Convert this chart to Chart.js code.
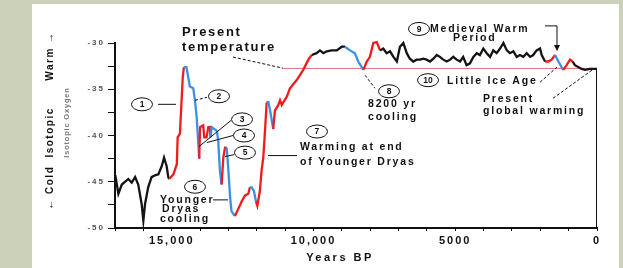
<!DOCTYPE html>
<html>
<head>
<meta charset="utf-8">
<script src="https://cdn.jsdelivr.net/npm/chart.js@4.4.0/dist/chart.umd.min.js"></script>
<style>
  html, body { margin:0; padding:0; background:#ccd1b9; overflow:hidden; }
  #panel { position:absolute; left:32px; top:4px; width:587px; height:264px; background:#fff; }
  #c { position:absolute; left:0; top:0; }
</style>
</head>
<body>
<div id="panel"></div>
<canvas id="c" width="623" height="268"></canvas>
<script>
// GISP2-style temperature record, years BP vs isotope value
const YEARS = [
  16990,16880,16760,16530,16410,16290,16180,16060,16000,15940,15830,15710,15590,15470,15350,15270,15180,15120,
  15090,14940,14820,14790,14710,14670,14610,
  14570,14480,14360,14240,14180,14120,14060,
  14030,14000,13890,13850,13770,13710,13650,
  13630,13590,13410,13360,13300,
  13240,13180,13120,
  13060,13000,12940,12890,
  12770,12690,12530,12420,12300,
  12240,12180,12100,
  12030,11980,11890,11830,11770,11710,
  11650,11590,11530,
  11420,11360,11240,11180,11120,10940,10830,10590,10360,10180,
  10060,9890,9770,9650,9530,9360,9180,9000,
  8890,8710,8540,8420,
  8240,8120,8010,7890,7770,
  7650,7540,7420,7300,7180,7060,6950,6830,6710,6600,6480,6360,6240,6130,6010,5890,5770,5650,5540,5420,
  5300,5180,5070,4950,4830,4720,4600,4480,4360,4240,4130,4010,3890,3770,3660,3540,3420,3300,3180,3070,
  2950,2830,2720,2600,2480,2360,2250,2130,2010,1950,
  1830,1720,1600,
  1480,1360,1250,
  1190,1070,950,
  860,780,660,540,420,250,130,0
];
const TEMPS = [
  -44.3,-46.3,-45.3,-44.7,-45.1,-44.5,-45.3,-47.4,-49.2,-47.4,-45.6,-44.5,-44.3,-44.2,-43.3,-42.4,-43.3,-44.5,
  -44.7,-44.2,-43.1,-40.2,-39.8,-37.3,-33.7,
  -32.6,-32.6,-34.7,-34.9,-36.2,-38.0,-40.9,
  -42.5,-39.1,-38.9,-40.2,-40.2,-39.1,-39.1,
  -40.2,-39.1,-39.5,-40.5,-43.8,
  -45.3,-42.4,-41.3,
  -41.3,-43.8,-46.7,-48.2,
  -48.7,-48.2,-47.1,-46.5,-46.3,
  -45.6,-45.6,-46.0,
  -47.1,-47.6,-46.0,-43.8,-42.4,-39.5,
  -36.4,-36.4,-37.3,
  -39.3,-37.3,-36.7,-36.2,-36.7,-35.8,-34.9,-34.0,-32.9,-31.8,
  -31.3,-31.1,-30.8,-31.1,-30.9,-30.8,-30.8,-30.4,
  -30.4,-30.8,-31.1,-32.0,
  -32.9,-32.0,-31.5,-30.0,-29.9,
  -30.8,-30.6,-31.1,-30.9,-31.5,-32.0,-30.4,-30.0,-31.1,-31.7,-32.0,-31.8,-31.8,-31.7,-31.8,-32.0,-31.7,-31.3,-31.5,-31.8,
  -32.0,-31.8,-31.5,-31.8,-32.0,-31.5,-32.4,-32.2,-31.5,-31.1,-31.3,-30.6,-31.1,-31.5,-30.8,-31.1,-30.6,-30.0,-30.8,-31.1,
  -30.9,-31.5,-31.3,-31.5,-31.1,-31.5,-31.3,-30.8,-30.6,-31.3,
  -32.0,-32.0,-31.8,
  -31.3,-32.0,-32.6,
  -32.9,-32.4,-31.8,
  -32.0,-32.4,-32.6,-32.8,-32.9,-32.8,-32.8,-32.8
];
// colour of the curve changes at these years (k = black, r = warming, b = cooling)
const BREAK_YEARS  = [15090,14570,14030,13630,13240,13060,12770,12240,12030,11650,11420,10060,8890,8240,7650,1830,1480,1190,860];
const BREAK_COLORS = ['r','b','r','b','r','b','r','b','r','b','r','k','b','r','k','r','b','r','k'];

const PRESENT_TEMP = -32.75;
const PRESENT_FROM = 11075;

const X_TICK_VALUES = [15000, 10000, 5000, 0];
const X_TICK_TEXT   = ['15,000', '10,000', '5000', '0'];
const Y_TICK_VALUES = [-30, -35, -40, -45, -50];
const Y_TICK_TEXT   = ['-30', '-35', '-40', '-45', '-50'];

// annotations, in data units (years BP, isotope value)
const CIRCLES = [
  ['1',16048,-36.63],['2',13333,-35.76],['3',12520,-38.26],['4',12450,-40.0],['5',12415,-41.85],
  ['6',14179,-45.54],['7',9876,-39.57],['8',7336,-35.22],['9',6278,-28.48],['10',5960,-34.02]
];
const NOTE_TEXT = [
  ['Present',14637,-28.91,1],['temperature',14637,-30.43,1],
  ['Younger',15414,-46.96,0],['Dryas',15342,-47.93,0],['cooling',15414,-49.02,0],
  ['Warming at end',10475,-41.30,0],['of Younger Dryas',10475,-42.83,0],
  ['8200 yr',8077,-36.63,0],['cooling',8077,-38.04,0],
  ['Medieval Warm',5890,-28.48,0],['Period',5079,-29.46,0],
  ['Little Ice Age',5290,-34.13,0],
  ['Present',4021,-36.09,0],['global warming',4021,-37.39,0]
];
const LEADERS = [
  [[[15484,-36.63],[14850,-36.63]], false],
  [[[14179,-36.20],[13756,-35.87]], true],
  [[[14037,-41.20],[12909,-38.37]], false],
  [[[13756,-40.76],[12838,-40.00]], false],
  [[[13120,-42.28],[12803,-42.07]], false],
  [[[13544,-46.96],[13015,-46.96]], false],
  [[[11604,-42.17],[10580,-42.17]], false],
  [[[8182,-33.48],[7830,-34.89]], true],
  [[[12838,-31.52],[11075,-32.72]], true],
  [[[2010,-34.24],[1411,-32.61]], true],
  [[[1552,-35.98],[176,-32.93]], true],
  [[[1834,-28.15],[1411,-28.15],[1411,-30.76]], false]
];

const COL = { k:'#141414', r:'#ee1c1c', b:'#3d8fe6' };
const F = '"Liberation Sans", Arial, sans-serif';

function segColor(year) {
  let c = 'k';
  BREAK_YEARS.forEach((y, i) => { if (year <= y) c = BREAK_COLORS[i]; });
  return COL[c];
}

const spacing = {
  id: 'spacing',
  beforeDraw(chart) { chart.ctx.letterSpacing = '2px'; }
};

const notes = {
  id: 'notes',
  afterDraw(chart) {
    const ctx = chart.ctx, xs = chart.scales.x, ys = chart.scales.y;
    const X = v => xs.getPixelForValue(v), Y = v => ys.getPixelForValue(v);
    ctx.save();
    ctx.strokeStyle = '#111'; ctx.fillStyle = '#111'; ctx.lineWidth = 1;

    LEADERS.forEach(([pts, dashed]) => {
      ctx.setLineDash(dashed ? [3, 2] : []);
      ctx.beginPath();
      pts.forEach(([a, b], i) => i ? ctx.lineTo(X(a), Y(b)) : ctx.moveTo(X(a), Y(b)));
      ctx.stroke();
    });
    ctx.setLineDash([]);
    // arrow head on the Medieval Warm Period bracket
    const br = LEADERS[LEADERS.length - 1][0], end = br[br.length - 1];
    const ax = X(end[0]), ay = Y(end[1]);
    ctx.beginPath(); ctx.moveTo(ax - 3, ay - 5); ctx.lineTo(ax + 3, ay - 5); ctx.lineTo(ax, ay + 1); ctx.closePath(); ctx.fill();

    ctx.textBaseline = 'middle';
    CIRCLES.forEach(([t, a, b]) => {
      const cx = X(a), cy = Y(b);
      ctx.beginPath(); ctx.ellipse(cx, cy, 10.5, 6.5, 0, 0, Math.PI * 2); ctx.stroke();
      ctx.font = `bold 8.5px ${F}`; ctx.letterSpacing = '0px'; ctx.textAlign = 'center';
      ctx.fillText(t, cx, cy + 0.5);
    });

    ctx.textAlign = 'left';
    NOTE_TEXT.forEach(([t, a, b, big]) => {
      ctx.font = big ? `bold 13px ${F}` : `bold 10.5px ${F}`;
      ctx.letterSpacing = big ? '1.7px' : '1.8px';
      ctx.fillText(t, X(a), Y(b));
    });

    // axis titles
    ctx.letterSpacing = '2.5px';
    ctx.textAlign = 'center';
    ctx.font = `bold 11px ${F}`;
    ctx.fillText('Years BP', X(9065), chart.chartArea.bottom + 30);

    ctx.save();
    ctx.translate(50, 0); ctx.rotate(-Math.PI / 2);
    ctx.font = `bold 10px ${F}`; ctx.letterSpacing = '1.5px';
    ctx.fillText('\u2190 Cold', -Y(-45.65), 0);
    ctx.fillText('Isotopic', -Y(-39.67), 0);
    ctx.fillText('Warm \u2192', -Y(-31.41), 0);
    ctx.restore();
    ctx.save();
    ctx.translate(67, 0); ctx.rotate(-Math.PI / 2);
    ctx.fillStyle = '#777'; ctx.font = `bold 7.5px ${F}`; ctx.letterSpacing = '0.8px';
    ctx.fillText('Isotopic Oxygen', -Y(-38.6), 0);
    ctx.restore();
    ctx.restore();
  }
};

new Chart(document.getElementById('c'), {
  type: 'line',
  data: {
    datasets: [
      {
        data: YEARS.map((x, i) => ({ x, y: TEMPS[i] })),
        borderColor: COL.k, borderWidth: 2.3, pointRadius: 0, tension: 0, clip: false,
        borderJoinStyle: 'miter',
        segment: { borderColor: c => segColor(YEARS[c.p0DataIndex]) }
      },
      {
        data: [{ x: PRESENT_FROM, y: PRESENT_TEMP }, { x: 0, y: PRESENT_TEMP }],
        borderColor: '#e57373', borderWidth: 1, pointRadius: 0
      },
      {
        data: [{ x: 0, y: PRESENT_TEMP }, { x: 0, y: -50 }],
        borderColor: '#111', borderWidth: 2, pointRadius: 0
      }
    ]
  },
  options: {
    responsive: false, animation: false,
    layout: { padding: { left: 0, right: 26, top: 43, bottom: 0 } },
    plugins: { legend: { display: false }, tooltip: { enabled: false } },
    scales: {
      x: {
        type: 'linear', reverse: true, min: 0, max: 17000,
        afterFit: s => { s.height = 40; },
        border: { color: '#111', width: 2 },
        grid: { drawOnChartArea: false, drawTicks: true, tickLength: 3, color: '#111' },
        ticks: {
          stepSize: 1000, autoSkip: false, maxRotation: 0, padding: 3, color: '#111',
          font: { family: F, size: 11, weight: 'bold' },
          callback: v => { const i = X_TICK_VALUES.indexOf(v); return i < 0 ? '' : X_TICK_TEXT[i]; }
        }
      },
      y: {
        min: -50, max: -30,
        afterFit: s => { s.width = 115; },
        border: { color: '#111', width: 2 },
        grid: { drawOnChartArea: false, drawTicks: true, tickLength: 7, color: '#111' },
        ticks: {
          stepSize: 2.5, autoSkip: false, padding: 3, color: '#555',
          font: { family: F, size: 8, weight: 'bold' },
          callback: v => { const i = Y_TICK_VALUES.indexOf(v); return i < 0 ? '' : Y_TICK_TEXT[i]; }
        }
      }
    }
  },
  plugins: [spacing, notes]
});
</script>
</body>
</html>
